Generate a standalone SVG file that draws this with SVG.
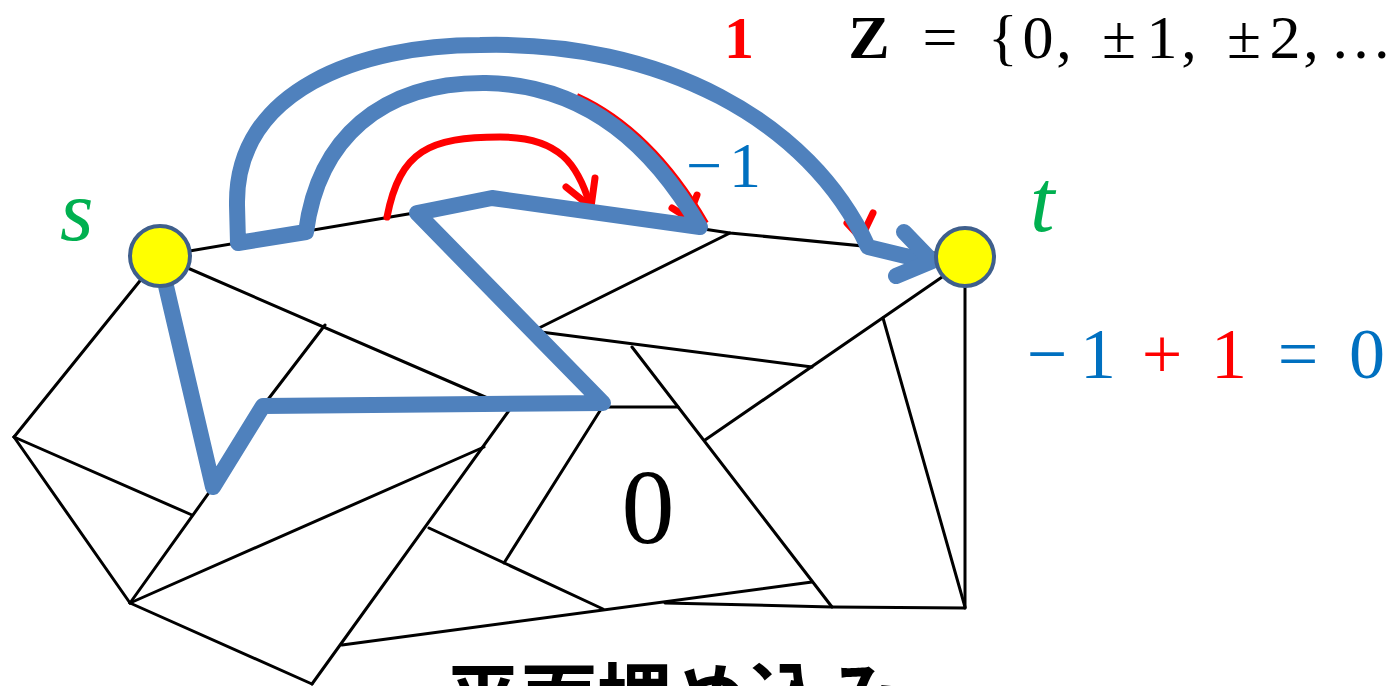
<svg xmlns="http://www.w3.org/2000/svg" width="1398" height="686" viewBox="0 0 1398 686">
<style>
.e{stroke:#000;stroke-width:3;fill:none;stroke-linecap:round;stroke-linejoin:round}
.b{stroke:#4F81BD;stroke-width:16;fill:none;stroke-linejoin:round;stroke-linecap:butt}
.r{stroke:#FF0000;stroke-width:7;fill:none;stroke-linecap:round;stroke-linejoin:round}
.n{fill:#FFFF00;stroke:#3F5F8C;stroke-width:4}
.serif{font-family:"Liberation Serif","DejaVu Serif",serif}
.blue{fill:#0070C0}
.red{fill:#FF0000}
.green{fill:#00B050}
</style>
<rect width="1398" height="686" fill="#fff"/>
<g id="connectors">
<g id="edges">
<polyline class="e" points="160,256 420,212 492,197 730,233 965,256"/>
<line class="e" x1="160" y1="256" x2="14" y2="437"/>
<line class="e" x1="14" y1="437" x2="130" y2="603"/>
<line class="e" x1="14" y1="437" x2="192" y2="515"/>
<polyline class="e" points="130,603 213,487 263,406 325,325"/>
<line class="e" x1="160" y1="256" x2="499" y2="403"/>
<line class="e" x1="513" y1="405" x2="312" y2="684"/>
<line class="e" x1="130" y1="603" x2="312" y2="684"/>
<line class="e" x1="130" y1="603" x2="484" y2="447"/>
<line class="e" x1="429" y1="528" x2="603" y2="609"/>
<line class="e" x1="504" y1="563" x2="603" y2="406"/>
<line class="e" x1="342" y1="645" x2="812" y2="582"/>
<polyline class="e" points="665,603 832,607 965,608"/>
<line class="e" x1="632" y1="347" x2="832" y2="607"/>
<line class="e" x1="600" y1="407" x2="678" y2="407"/>
<line class="e" x1="705" y1="440" x2="945" y2="275"/>
<line class="e" x1="883" y1="318" x2="965" y2="607"/>
<line class="e" x1="965" y1="256" x2="965" y2="608"/>
<line class="e" x1="533" y1="331" x2="730" y2="233"/>
<line class="e" x1="533" y1="331" x2="812" y2="367"/>
</g>
<g id="red-arrows">
<path class="r" d="M387,217 C400,150 430,137 500,137 C560,137 578,165 590,205"/>
<polyline class="r" points="566,187 591,207 595,178"/>
<path d="M486,83 C590,85 655,150 700,227" fill="none" stroke="#FF0000" stroke-width="17" stroke-dasharray="0 90 400" transform="translate(1.2,-1)"/>
<polyline class="r" points="672,208 688,218 697,195"/>
<polyline class="r" points="847,223 861,238 873,213"/>
</g>
<g id="blue-path">
<path class="b" d="M166,286 L213,487 L263,406 L603,403 L417,213 L492,198 L700,227 C655,150 590,85 486,83 C380,82 318,140 306,232 L238,243 L237,205 C235,90 360,45 480,45 C660,40 810,120 868,247 L930,262"/>
<polyline class="b" points="904,232 932,261 896,276" style="stroke-linecap:round"/>
</g>
</g>
<g id="node-s">
<circle class="n" cx="160" cy="256" r="30"/>
<text class="serif green" x="60" y="240" font-size="86" font-style="italic">s</text>
</g>
<g id="node-t">
<circle class="n" cx="965" cy="257" r="29"/>
<text class="serif green" x="1030" y="231" font-size="88" font-style="italic">t</text>
</g>
<g id="labels">
<text class="serif blue" y="187" font-size="64" text-anchor="middle"><tspan x="704">−</tspan><tspan x="745">1</tspan></text>
<text class="serif" x="648" y="543" font-size="106" text-anchor="middle">0</text>
<text class="serif red" x="739" y="58" font-size="60" font-weight="bold" text-anchor="middle">1</text>
<text class="serif" y="58" font-size="62" text-anchor="middle"><tspan x="869" font-weight="bold">Z</tspan><tspan x="940">=</tspan><tspan x="1003">{</tspan><tspan x="1038">0</tspan><tspan x="1064">,</tspan><tspan x="1119">±</tspan><tspan x="1162">1</tspan><tspan x="1189">,</tspan><tspan x="1244">±</tspan><tspan x="1285">2</tspan><tspan x="1311">,</tspan><tspan x="1361">…</tspan></text>
<text class="serif" y="378" font-size="72" text-anchor="middle"><tspan class="blue" x="1047">−</tspan><tspan class="blue" x="1098">1</tspan><tspan class="red" x="1162">+</tspan><tspan class="red" x="1229">1</tspan><tspan class="blue" x="1298">=</tspan><tspan class="blue" x="1367">0</tspan></text>
<text x="445" y="726" font-size="76" font-weight="bold" font-family="'Noto Sans CJK JP','Noto Sans CJK SC',sans-serif">平面埋め込み</text>
</g>
</svg>
